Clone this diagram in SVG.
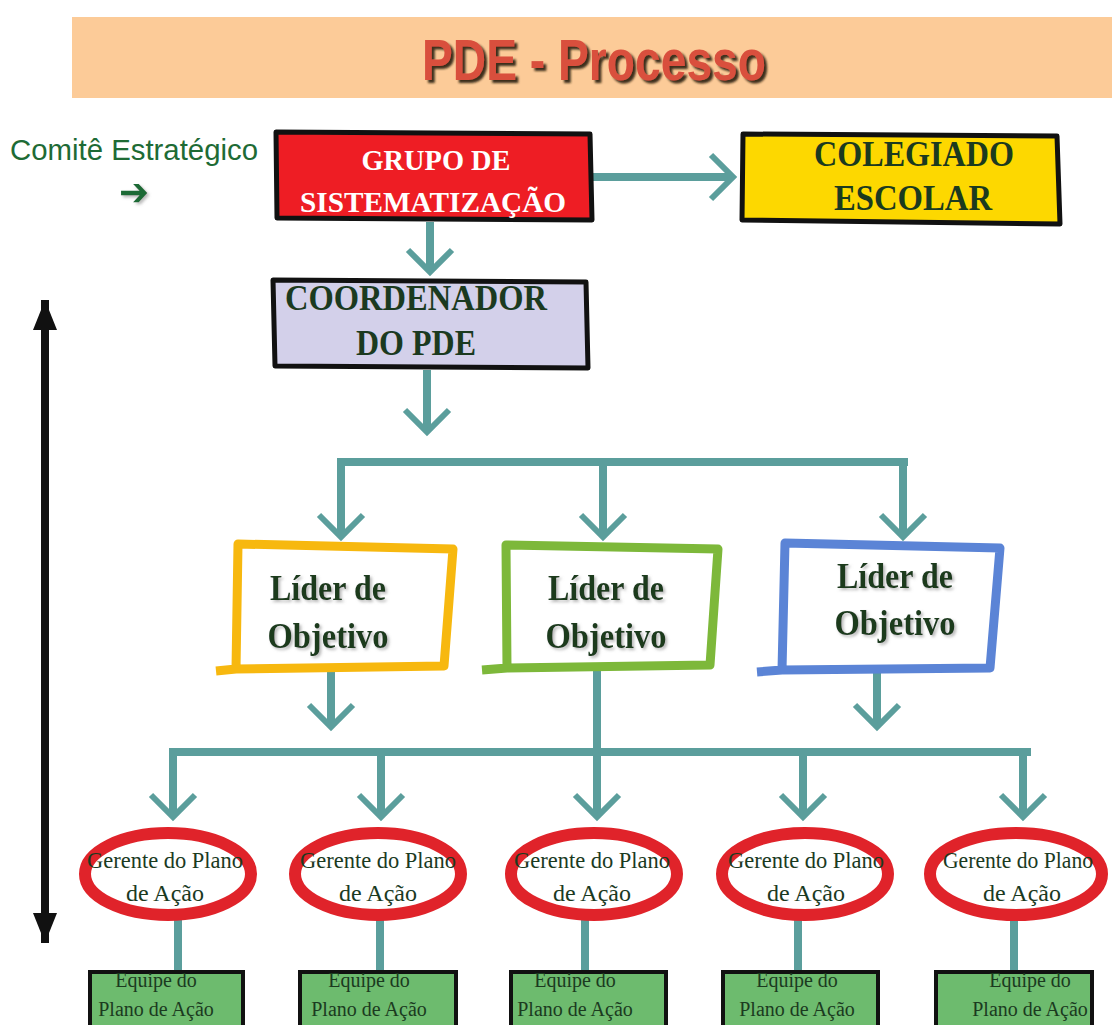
<svg xmlns="http://www.w3.org/2000/svg" width="1112" height="1025" viewBox="0 0 1112 1025">
<defs>
<style>
.conn{fill:none;stroke:#5B9E9C;stroke-width:8}
.bar{fill:none;stroke:#5B9E9C;stroke-width:8;stroke-linecap:square}
.box{stroke:#111;stroke-width:5;stroke-linejoin:round}
.hd{font-family:"Liberation Serif","Times New Roman",serif;font-weight:bold;text-anchor:middle}
.dg{fill:#1B3A1F}
.lead{fill:#fff;stroke-width:9;stroke-linejoin:round}
.ger{fill:none;stroke:#E0232A;stroke-width:12}
.gt{font-family:"Liberation Serif","Times New Roman",serif;font-size:24px;fill:#1B3A1F;text-anchor:middle}
.eq{fill:#6DBB6E;stroke:#111;stroke-width:4}
.et{font-family:"Liberation Serif","Times New Roman",serif;font-size:20px;fill:#1B3A1F;text-anchor:middle}
</style>
<marker id="chev" markerUnits="userSpaceOnUse" viewBox="-30 -30 36 60" refX="0" refY="0" markerWidth="36" markerHeight="60" orient="auto" overflow="visible">
<path d="M-22,-22 L0,0 L-22,22" fill="none" stroke="#5B9E9C" stroke-width="6" stroke-linejoin="miter"/>
</marker>
<marker id="bk" markerUnits="userSpaceOnUse" viewBox="-30 -15 32 30" refX="0" refY="0" markerWidth="32" markerHeight="30" orient="auto-start-reverse" overflow="visible">
<path d="M-30,-12 L0,0 L-30,12 Z" fill="#111"/>
</marker>
<filter id="tsh" x="-10%" y="-20%" width="130%" height="150%">
<feDropShadow dx="3" dy="3" stdDeviation="0.8" flood-color="#2a1a10" flood-opacity="0.9"/>
</filter>
<filter id="lsh" x="-10%" y="-20%" width="130%" height="150%">
<feDropShadow dx="2" dy="2" stdDeviation="1.5" flood-color="#888" flood-opacity="0.6"/>
</filter>
</defs>

<g id="title">
<rect x="72" y="17" width="1040" height="81" fill="#FCCB98"/>
<text x="594" y="80" font-family="'Liberation Sans',Arial,sans-serif" font-weight="bold" font-size="58" fill="#D9503E" text-anchor="middle" textLength="344" lengthAdjust="spacingAndGlyphs" filter="url(#tsh)">PDE - Processo</text>
</g>

<g id="comite">
<text x="134" y="160" font-family="'Liberation Sans',Arial,sans-serif" font-size="29" fill="#1E6B35" text-anchor="middle" textLength="248" lengthAdjust="spacingAndGlyphs">Comitê Estratégico</text>
<text x="134" y="205" font-family="'DejaVu Sans',sans-serif" font-weight="bold" font-size="38" fill="#1E6B35" text-anchor="middle" textLength="30" lengthAdjust="spacingAndGlyphs" filter="url(#lsh)">➔</text>
</g>

<g id="scale-arrow">
<line x1="45" y1="300" x2="45" y2="943" stroke="#111" stroke-width="8" marker-start="url(#bk)" marker-end="url(#bk)"/>
</g>

<g id="connectors">
<path class="conn" d="M592,177 H733" marker-end="url(#chev)"/>
<path class="conn" d="M430,222 V272" marker-end="url(#chev)"/>
<path class="conn" d="M427,370 V432" marker-end="url(#chev)"/>
<path class="bar" d="M341,462 H904"/>
<path class="conn" d="M341,462 V537" marker-end="url(#chev)"/>
<path class="conn" d="M603,462 V537" marker-end="url(#chev)"/>
<path class="conn" d="M903,462 V537" marker-end="url(#chev)"/>
<path class="conn" d="M331,670 V727" marker-end="url(#chev)"/>
<path class="conn" d="M597,668 V752"/>
<path class="conn" d="M877,670 V727" marker-end="url(#chev)"/>
<path class="bar" d="M173,752 H1027"/>
<path class="conn" d="M173,752 V817" marker-end="url(#chev)"/>
<path class="conn" d="M381,752 V817" marker-end="url(#chev)"/>
<path class="conn" d="M597,752 V817" marker-end="url(#chev)"/>
<path class="conn" d="M803,752 V817" marker-end="url(#chev)"/>
<path class="conn" d="M1023,752 V817" marker-end="url(#chev)"/>
<path class="conn" d="M178,916 V972"/>
<path class="conn" d="M380,916 V972"/>
<path class="conn" d="M585,916 V972"/>
<path class="conn" d="M798,916 V972"/>
<path class="conn" d="M1014,916 V972"/>
</g>

<g id="grupo">
<polygon class="box" points="276,132 590,134 592,220 277,218" fill="#EE1D24"/>
<text class="hd" x="436" y="170" font-size="30" fill="#fff" textLength="149" lengthAdjust="spacingAndGlyphs">GRUPO DE</text>
<text class="hd" x="433" y="212" font-size="30" fill="#fff" textLength="266" lengthAdjust="spacingAndGlyphs">SISTEMATIZAÇÃO</text>
</g>

<g id="colegiado">
<polygon class="box" points="743,134 1057,136 1060,224 742,220" fill="#FDD800"/>
<text class="hd dg" x="914" y="166" font-size="36" textLength="200" lengthAdjust="spacingAndGlyphs">COLEGIADO</text>
<text class="hd dg" x="913" y="210" font-size="36" textLength="158" lengthAdjust="spacingAndGlyphs">ESCOLAR</text>
</g>

<g id="coordenador">
<polygon class="box" points="273,280 586,282 588,368 275,366" fill="#D3D0EA"/>
<text class="hd dg" x="416" y="310" font-size="36" textLength="262" lengthAdjust="spacingAndGlyphs">COORDENADOR</text>
<text class="hd dg" x="416" y="355" font-size="36" textLength="120" lengthAdjust="spacingAndGlyphs">DO PDE</text>
</g>

<g id="lider1">
<path class="lead" d="M238,544 L453,549 L444,666 L236,669 Z M236,669 L216,671" stroke="#F7B80F"/>
<text class="hd dg" x="328" y="600" font-size="36" textLength="116" lengthAdjust="spacingAndGlyphs" filter="url(#lsh)">Líder de</text>
<text class="hd dg" x="328" y="648" font-size="36" textLength="121" lengthAdjust="spacingAndGlyphs" filter="url(#lsh)">Objetivo</text>
</g>

<g id="lider2">
<path class="lead" d="M506,545 L718,549 L710,665 L507,668 Z M507,668 L482,670" stroke="#7DB83A"/>
<text class="hd dg" x="606" y="600" font-size="36" textLength="116" lengthAdjust="spacingAndGlyphs" filter="url(#lsh)">Líder de</text>
<text class="hd dg" x="606" y="648" font-size="36" textLength="121" lengthAdjust="spacingAndGlyphs" filter="url(#lsh)">Objetivo</text>
</g>

<g id="lider3">
<path class="lead" d="M785,543 L1000,548 L990,668 L782,670 Z M782,670 L757,672" stroke="#5B84D6"/>
<text class="hd dg" x="895" y="588" font-size="36" textLength="116" lengthAdjust="spacingAndGlyphs" filter="url(#lsh)">Líder de</text>
<text class="hd dg" x="895" y="635" font-size="36" textLength="121" lengthAdjust="spacingAndGlyphs" filter="url(#lsh)">Objetivo</text>
</g>

<g id="gerente1">
<ellipse class="ger" cx="168" cy="874" rx="83" ry="41"/>
<text class="gt" x="165" y="868" textLength="156" lengthAdjust="spacingAndGlyphs">Gerente do Plano</text>
<text class="gt" x="165" y="901">de Ação</text>
</g>
<g id="gerente2">
<ellipse class="ger" cx="378" cy="874" rx="83" ry="41"/>
<text class="gt" x="378" y="868" textLength="156" lengthAdjust="spacingAndGlyphs">Gerente do Plano</text>
<text class="gt" x="378" y="901">de Ação</text>
</g>
<g id="gerente3">
<ellipse class="ger" cx="594" cy="874" rx="83" ry="41"/>
<text class="gt" x="592" y="868" textLength="156" lengthAdjust="spacingAndGlyphs">Gerente do Plano</text>
<text class="gt" x="592" y="901">de Ação</text>
</g>
<g id="gerente4">
<ellipse class="ger" cx="805" cy="874" rx="83" ry="41"/>
<text class="gt" x="806" y="868" textLength="156" lengthAdjust="spacingAndGlyphs">Gerente do Plano</text>
<text class="gt" x="806" y="901">de Ação</text>
</g>
<g id="gerente5">
<ellipse class="ger" cx="1016" cy="874" rx="86" ry="41"/>
<text class="gt" x="1018" y="868" textLength="150" lengthAdjust="spacingAndGlyphs">Gerente do Plano</text>
<text class="gt" x="1022" y="901">de Ação</text>
</g>

<g id="equipe1">
<rect class="eq" x="90" y="972" width="153" height="60"/>
<text class="et" x="156" y="987">Equipe do</text>
<text class="et" x="156" y="1016">Plano de Ação</text>
</g>
<g id="equipe2">
<rect class="eq" x="300" y="972" width="156" height="60"/>
<text class="et" x="369" y="987">Equipe do</text>
<text class="et" x="369" y="1016">Plano de Ação</text>
</g>
<g id="equipe3">
<rect class="eq" x="511" y="972" width="155" height="60"/>
<text class="et" x="575" y="987">Equipe do</text>
<text class="et" x="575" y="1016">Plano de Ação</text>
</g>
<g id="equipe4">
<rect class="eq" x="723" y="972" width="155" height="60"/>
<text class="et" x="797" y="987">Equipe do</text>
<text class="et" x="797" y="1016">Plano de Ação</text>
</g>
<g id="equipe5">
<rect class="eq" x="936" y="972" width="156" height="60"/>
<text class="et" x="1030" y="987">Equipe do</text>
<text class="et" x="1030" y="1016">Plano de Ação</text>
</g>
</svg>
